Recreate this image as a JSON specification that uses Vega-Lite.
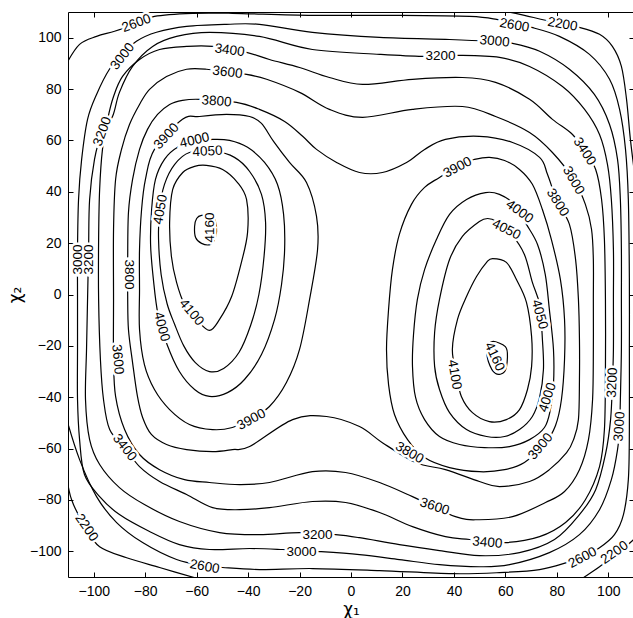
{
"$schema":"https://vega.github.io/schema/vega-lite/v6.json",
"width":566,"height":565,
"autosize":{"type":"none"},
"padding":{"left":68,"top":12,"right":0,"bottom":41},
"background":"white",
"config":{"view":{"stroke":"black","strokeWidth":1},"font":"Liberation Sans"},
"datasets":{
"loops":[
{"c":"L4160","i":0,"x":-58.1,"y":30.8},{"c":"L4160","i":1,"x":-60.0,"y":29.6},{"c":"L4160","i":2,"x":-60.8,"y":26.5},{"c":"L4160","i":3,"x":-60.4,"y":22.2},{"c":"L4160","i":4,"x":-58.1,"y":19.9},{"c":"L4160","i":5,"x":-54.6,"y":19.5},{"c":"L4160","i":6,"x":-52.7,"y":22.2},{"c":"L4160","i":7,"x":-52.3,"y":26.5},{"c":"L4160","i":8,"x":-53.8,"y":30.4},
{"c":"R4160","i":0,"x":55.0,"y":-18.3},{"c":"R4160","i":1,"x":60.0,"y":-20.3},{"c":"R4160","i":2,"x":60.8,"y":-24.5},{"c":"R4160","i":3,"x":59.7,"y":-30.0},{"c":"R4160","i":4,"x":56.2,"y":-30.8},{"c":"R4160","i":5,"x":53.4,"y":-26.1},{"c":"R4160","i":6,"x":53.0,"y":-21.0},
{"c":"L4100","i":0,"x":-65.4,"y":47.5},{"c":"L4100","i":1,"x":-69.3,"y":40.9},{"c":"L4100","i":2,"x":-70.5,"y":28.0},{"c":"L4100","i":3,"x":-69.8,"y":14.8},{"c":"L4100","i":4,"x":-67.8,"y":4.7},{"c":"L4100","i":5,"x":-64.7,"y":-3.9},{"c":"L4100","i":6,"x":-60.0,"y":-9.7},{"c":"L4100","i":7,"x":-55.0,"y":-14.0},{"c":"L4100","i":8,"x":-51.1,"y":-9.7},{"c":"L4100","i":9,"x":-46.4,"y":-0.8},{"c":"L4100","i":10,"x":-42.6,"y":12.5},{"c":"L4100","i":11,"x":-40.2,"y":24.2},{"c":"L4100","i":12,"x":-40.6,"y":37.0},{"c":"L4100","i":13,"x":-44.1,"y":43.6},{"c":"L4100","i":14,"x":-49.9,"y":48.7},{"c":"L4100","i":15,"x":-56.2,"y":50.3},{"c":"L4100","i":16,"x":-60.8,"y":49.9},
{"c":"R4100","i":0,"x":55.0,"y":14.0},{"c":"R4100","i":1,"x":60.4,"y":12.5},{"c":"R4100","i":2,"x":64.3,"y":5.8},{"c":"R4100","i":3,"x":68.2,"y":-3.1},{"c":"R4100","i":4,"x":70.2,"y":-16.4},{"c":"R4100","i":5,"x":70.2,"y":-28.0},{"c":"R4100","i":6,"x":68.6,"y":-37.0},{"c":"R4100","i":7,"x":65.5,"y":-44.8},{"c":"R4100","i":8,"x":60.4,"y":-48.7},{"c":"R4100","i":9,"x":53.8,"y":-49.5},{"c":"R4100","i":10,"x":47.2,"y":-46.0},{"c":"R4100","i":11,"x":42.9,"y":-39.7},{"c":"R4100","i":12,"x":41.0,"y":-31.2},{"c":"R4100","i":13,"x":39.4,"y":-21.4},{"c":"R4100","i":14,"x":41.4,"y":-9.7},{"c":"R4100","i":15,"x":44.9,"y":-0.8},{"c":"R4100","i":16,"x":48.8,"y":7.0},{"c":"R4100","i":17,"x":52.7,"y":12.5},
{"c":"L4050","i":0,"x":-62.8,"y":55.3},{"c":"L4050","i":1,"x":-68.6,"y":50.6},{"c":"L4050","i":2,"x":-72.5,"y":42.9},{"c":"L4050","i":3,"x":-74.4,"y":33.1},{"c":"L4050","i":4,"x":-74.8,"y":21.4},{"c":"L4050","i":5,"x":-73.8,"y":7.8},{"c":"L4050","i":6,"x":-71.5,"y":-3.5},{"c":"L4050","i":7,"x":-68.6,"y":-11.5},{"c":"L4050","i":8,"x":-65.0,"y":-20.0},{"c":"L4050","i":9,"x":-60.5,"y":-26.5},{"c":"L4050","i":10,"x":-55.0,"y":-30.0},{"c":"L4050","i":11,"x":-49.5,"y":-28.8},{"c":"L4050","i":12,"x":-43.5,"y":-22.5},{"c":"L4050","i":13,"x":-39.0,"y":-12.0},{"c":"L4050","i":14,"x":-35.8,"y":0.0},{"c":"L4050","i":15,"x":-33.8,"y":14.8},{"c":"L4050","i":16,"x":-33.2,"y":28.0},{"c":"L4050","i":17,"x":-34.8,"y":39.0},{"c":"L4050","i":18,"x":-39.4,"y":47.9},{"c":"L4050","i":19,"x":-45.3,"y":53.4},{"c":"L4050","i":20,"x":-53.0,"y":55.7},
{"c":"R4050","i":0,"x":49.9,"y":28.4},{"c":"R4050","i":1,"x":43.3,"y":22.6},{"c":"R4050","i":2,"x":38.3,"y":13.6},{"c":"R4050","i":3,"x":34.4,"y":-1.9},{"c":"R4050","i":4,"x":32.5,"y":-14.8},{"c":"R4050","i":5,"x":32.5,"y":-28.0},{"c":"R4050","i":6,"x":34.4,"y":-37.0},{"c":"R4050","i":7,"x":38.3,"y":-46.0},{"c":"R4050","i":8,"x":44.9,"y":-52.6},{"c":"R4050","i":9,"x":52.7,"y":-55.3},{"c":"R4050","i":10,"x":59.7,"y":-55.3},{"c":"R4050","i":11,"x":65.5,"y":-52.6},{"c":"R4050","i":12,"x":70.5,"y":-47.5},{"c":"R4050","i":13,"x":73.3,"y":-40.1},{"c":"R4050","i":14,"x":74.8,"y":-29.2},{"c":"R4050","i":15,"x":74.4,"y":-17.5},{"c":"R4050","i":16,"x":73.3,"y":-3.9},{"c":"R4050","i":17,"x":70.5,"y":4.7},{"c":"R4050","i":18,"x":67.4,"y":15.6},{"c":"R4050","i":19,"x":62.4,"y":23.4},{"c":"R4050","i":20,"x":56.6,"y":28.4},{"c":"R4050","i":21,"x":53.1,"y":29.6},
{"c":"L4000","i":0,"x":-67.4,"y":57.3},{"c":"L4000","i":1,"x":-72.5,"y":52.6},{"c":"L4000","i":2,"x":-76.0,"y":44.8},{"c":"L4000","i":3,"x":-77.5,"y":33.1},{"c":"L4000","i":4,"x":-77.9,"y":19.5},{"c":"L4000","i":5,"x":-76.8,"y":5.8},{"c":"L4000","i":6,"x":-75.0,"y":-7.8},{"c":"L4000","i":7,"x":-71.5,"y":-19.5},{"c":"L4000","i":8,"x":-66.7,"y":-30.0},{"c":"L4000","i":9,"x":-60.8,"y":-37.0},{"c":"L4000","i":10,"x":-55.0,"y":-39.7},{"c":"L4000","i":11,"x":-48.0,"y":-38.2},{"c":"L4000","i":12,"x":-41.4,"y":-33.1},{"c":"L4000","i":13,"x":-34.8,"y":-23.4},{"c":"L4000","i":14,"x":-29.7,"y":-9.7},{"c":"L4000","i":15,"x":-27.0,"y":3.9},{"c":"L4000","i":16,"x":-25.8,"y":17.5},{"c":"L4000","i":17,"x":-26.2,"y":31.2},{"c":"L4000","i":18,"x":-28.6,"y":42.9},{"c":"L4000","i":19,"x":-33.6,"y":51.4},{"c":"L4000","i":20,"x":-40.2,"y":57.3},{"c":"L4000","i":21,"x":-47.2,"y":60.0},{"c":"L4000","i":22,"x":-53.8,"y":60.4},{"c":"L4000","i":23,"x":-60.5,"y":59.5},
{"c":"R4000","i":0,"x":52.3,"y":39.7},{"c":"R4000","i":1,"x":44.9,"y":37.0},{"c":"R4000","i":2,"x":38.3,"y":31.2},{"c":"R4000","i":3,"x":33.2,"y":21.4},{"c":"R4000","i":4,"x":28.6,"y":9.7},{"c":"R4000","i":5,"x":25.8,"y":-1.9},{"c":"R4000","i":6,"x":24.3,"y":-15.6},{"c":"R4000","i":7,"x":23.9,"y":-28.0},{"c":"R4000","i":8,"x":25.1,"y":-40.1},{"c":"R4000","i":9,"x":28.6,"y":-48.7},{"c":"R4000","i":10,"x":34.4,"y":-55.3},{"c":"R4000","i":11,"x":42.2,"y":-58.4},{"c":"R4000","i":12,"x":51.9,"y":-59.6},{"c":"R4000","i":13,"x":61.6,"y":-59.2},{"c":"R4000","i":14,"x":69.4,"y":-56.5},{"c":"R4000","i":15,"x":75.2,"y":-51.8},{"c":"R4000","i":16,"x":77.5,"y":-44.8},{"c":"R4000","i":17,"x":78.7,"y":-35.1},{"c":"R4000","i":18,"x":78.7,"y":-21.4},{"c":"R4000","i":19,"x":77.1,"y":-5.8},{"c":"R4000","i":20,"x":75.5,"y":7.8},{"c":"R4000","i":21,"x":72.5,"y":19.5},{"c":"R4000","i":22,"x":68.2,"y":27.3},{"c":"R4000","i":23,"x":63.5,"y":35.1},{"c":"R4000","i":24,"x":57.7,"y":39.0},
{"c":"L3900","i":0,"x":-76.4,"y":56.5},{"c":"L3900","i":1,"x":-65.5,"y":68.2},{"c":"L3900","i":2,"x":-58.9,"y":69.3},{"c":"L3900","i":3,"x":-48.4,"y":70.1},{"c":"L3900","i":4,"x":-39.4,"y":69.3},{"c":"L3900","i":5,"x":-34.8,"y":66.6},{"c":"L3900","i":6,"x":-30.1,"y":59.6},{"c":"L3900","i":7,"x":-23.9,"y":51.4},{"c":"L3900","i":8,"x":-17.3,"y":43.6},{"c":"L3900","i":9,"x":-13.4,"y":30.4},{"c":"L3900","i":10,"x":-13.0,"y":17.5},{"c":"L3900","i":11,"x":-16.1,"y":-1.9},{"c":"L3900","i":12,"x":-20.0,"y":-21.4},{"c":"L3900","i":13,"x":-25.1,"y":-34.3},{"c":"L3900","i":14,"x":-31.7,"y":-43.6},{"c":"L3900","i":15,"x":-39.4,"y":-48.7},{"c":"L3900","i":16,"x":-46.1,"y":-51.8},{"c":"L3900","i":17,"x":-53.8,"y":-52.6},{"c":"L3900","i":18,"x":-62.8,"y":-50.6},{"c":"L3900","i":19,"x":-70.5,"y":-44.8},{"c":"L3900","i":20,"x":-76.4,"y":-37.0},{"c":"L3900","i":21,"x":-80.3,"y":-27.3},{"c":"L3900","i":22,"x":-82.2,"y":-13.6},{"c":"L3900","i":23,"x":-82.2,"y":1.9},{"c":"L3900","i":24,"x":-82.2,"y":17.5},{"c":"L3900","i":25,"x":-81.4,"y":33.1},{"c":"L3900","i":26,"x":-79.9,"y":44.8},
{"c":"R3900","i":0,"x":34.4,"y":45.6},{"c":"R3900","i":1,"x":28.6,"y":41.7},{"c":"R3900","i":2,"x":23.5,"y":35.1},{"c":"R3900","i":3,"x":18.8,"y":23.4},{"c":"R3900","i":4,"x":16.1,"y":9.7},{"c":"R3900","i":5,"x":14.6,"y":-5.8},{"c":"R3900","i":6,"x":13.8,"y":-21.4},{"c":"R3900","i":7,"x":14.6,"y":-35.1},{"c":"R3900","i":8,"x":16.9,"y":-46.7},{"c":"R3900","i":9,"x":22.0,"y":-56.5},{"c":"R3900","i":10,"x":28.6,"y":-63.5},{"c":"R3900","i":11,"x":38.3,"y":-67.4},{"c":"R3900","i":12,"x":49.9,"y":-69.0},{"c":"R3900","i":13,"x":59.7,"y":-68.2},{"c":"R3900","i":14,"x":67.4,"y":-65.4},{"c":"R3900","i":15,"x":75.2,"y":-58.4},{"c":"R3900","i":16,"x":79.5,"y":-51.0},{"c":"R3900","i":17,"x":81.8,"y":-40.9},{"c":"R3900","i":18,"x":83.0,"y":-25.3},{"c":"R3900","i":19,"x":83.0,"y":-9.7},{"c":"R3900","i":20,"x":81.4,"y":5.8},{"c":"R3900","i":21,"x":77.9,"y":21.4},{"c":"R3900","i":22,"x":74.4,"y":33.1},{"c":"R3900","i":23,"x":70.5,"y":42.9},{"c":"R3900","i":24,"x":65.5,"y":48.7},{"c":"R3900","i":25,"x":59.7,"y":52.2},{"c":"R3900","i":26,"x":53.8,"y":53.4},{"c":"R3900","i":27,"x":48.0,"y":52.6},{"c":"R3900","i":28,"x":42.2,"y":50.6},
{"c":"3800","i":0,"x":-44.5,"y":74.8},{"c":"3800","i":1,"x":-35.6,"y":72.1},{"c":"3800","i":2,"x":-25.8,"y":67.4},{"c":"3800","i":3,"x":-18.8,"y":61.6},{"c":"3800","i":4,"x":-13.4,"y":56.5},{"c":"3800","i":5,"x":-5.6,"y":51.4},{"c":"3800","i":6,"x":3.3,"y":47.5},{"c":"3800","i":7,"x":12.2,"y":47.5},{"c":"3800","i":8,"x":21.6,"y":51.4},{"c":"3800","i":9,"x":28.6,"y":56.5},{"c":"3800","i":10,"x":36.7,"y":60.4},{"c":"3800","i":11,"x":49.9,"y":61.6},{"c":"3800","i":12,"x":62.8,"y":59.2},{"c":"3800","i":13,"x":73.3,"y":53.4},{"c":"3800","i":14,"x":76.4,"y":46.7},{"c":"3800","i":15,"x":80.3,"y":35.8},{"c":"3800","i":16,"x":84.9,"y":27.3},{"c":"3800","i":17,"x":87.3,"y":13.6},{"c":"3800","i":18,"x":88.4,"y":-1.9},{"c":"3800","i":19,"x":88.8,"y":-17.5},{"c":"3800","i":20,"x":88.8,"y":-33.1},{"c":"3800","i":21,"x":88.4,"y":-48.7},{"c":"3800","i":22,"x":86.5,"y":-56.5},{"c":"3800","i":23,"x":83.8,"y":-61.6},{"c":"3800","i":24,"x":77.1,"y":-68.2},{"c":"3800","i":25,"x":69.4,"y":-72.8},{"c":"3800","i":26,"x":57.7,"y":-74.8},{"c":"3800","i":27,"x":49.9,"y":-72.8},{"c":"3800","i":28,"x":36.7,"y":-68.2},{"c":"3800","i":29,"x":25.1,"y":-65.4},{"c":"3800","i":30,"x":12.2,"y":-57.7},{"c":"3800","i":31,"x":3.3,"y":-51.4},{"c":"3800","i":32,"x":-9.5,"y":-47.5},{"c":"3800","i":33,"x":-22.7,"y":-48.7},{"c":"3800","i":34,"x":-39.4,"y":-59.2},{"c":"3800","i":35,"x":-46.1,"y":-60.4},{"c":"3800","i":36,"x":-53.8,"y":-61.2},{"c":"3800","i":37,"x":-63.9,"y":-60.4},{"c":"3800","i":38,"x":-71.7,"y":-58.4},{"c":"3800","i":39,"x":-77.6,"y":-54.5},{"c":"3800","i":40,"x":-81.0,"y":-47.9},{"c":"3800","i":41,"x":-83.0,"y":-39.7},{"c":"3800","i":42,"x":-84.9,"y":-26.5},{"c":"3800","i":43,"x":-86.5,"y":-13.6},{"c":"3800","i":44,"x":-86.8,"y":-0.8},{"c":"3800","i":45,"x":-86.8,"y":13.6},{"c":"3800","i":46,"x":-86.5,"y":31.9},{"c":"3800","i":47,"x":-84.9,"y":44.8},{"c":"3800","i":48,"x":-82.2,"y":56.5},{"c":"3800","i":49,"x":-79.1,"y":64.3},{"c":"3800","i":50,"x":-75.2,"y":70.1},{"c":"3800","i":51,"x":-70.5,"y":74.0},{"c":"3800","i":52,"x":-65.5,"y":75.6},{"c":"3800","i":53,"x":-58.9,"y":76.0},
{"c":"3600","i":0,"x":-56.2,"y":87.7},{"c":"3600","i":1,"x":-40.6,"y":85.7},{"c":"3600","i":2,"x":-32.8,"y":83.8},{"c":"3600","i":3,"x":-20.0,"y":78.7},{"c":"3600","i":4,"x":-8.4,"y":72.1},{"c":"3600","i":5,"x":4.5,"y":69.0},{"c":"3600","i":6,"x":23.9,"y":72.1},{"c":"3600","i":7,"x":43.3,"y":73.2},{"c":"3600","i":8,"x":56.2,"y":69.3},{"c":"3600","i":9,"x":69.4,"y":63.1},{"c":"3600","i":10,"x":78.3,"y":55.3},{"c":"3600","i":11,"x":86.5,"y":44.8},{"c":"3600","i":12,"x":91.1,"y":35.1},{"c":"3600","i":13,"x":93.5,"y":25.3},{"c":"3600","i":14,"x":94.2,"y":13.6},{"c":"3600","i":15,"x":94.2,"y":-1.9},{"c":"3600","i":16,"x":94.2,"y":-21.4},{"c":"3600","i":17,"x":93.9,"y":-40.9},{"c":"3600","i":18,"x":92.3,"y":-56.5},{"c":"3600","i":19,"x":88.8,"y":-68.2},{"c":"3600","i":20,"x":83.0,"y":-76.7},{"c":"3600","i":21,"x":75.6,"y":-81.0},{"c":"3600","i":22,"x":62.8,"y":-86.5},{"c":"3600","i":23,"x":49.9,"y":-87.7},{"c":"3600","i":24,"x":40.6,"y":-86.5},{"c":"3600","i":25,"x":23.9,"y":-78.7},{"c":"3600","i":26,"x":11.1,"y":-73.2},{"c":"3600","i":27,"x":-2.1,"y":-69.3},{"c":"3600","i":28,"x":-15.0,"y":-69.0},{"c":"3600","i":29,"x":-31.7,"y":-73.2},{"c":"3600","i":30,"x":-43.3,"y":-74.0},{"c":"3600","i":31,"x":-55.0,"y":-73.2},{"c":"3600","i":32,"x":-64.7,"y":-72.1},{"c":"3600","i":33,"x":-74.4,"y":-68.2},{"c":"3600","i":34,"x":-82.2,"y":-62.3},{"c":"3600","i":35,"x":-88.0,"y":-52.6},{"c":"3600","i":36,"x":-91.5,"y":-39.7},{"c":"3600","i":37,"x":-92.3,"y":-25.3},{"c":"3600","i":38,"x":-92.3,"y":-1.9},{"c":"3600","i":39,"x":-92.3,"y":25.3},{"c":"3600","i":40,"x":-91.5,"y":44.8},{"c":"3600","i":41,"x":-89.2,"y":56.5},{"c":"3600","i":42,"x":-86.1,"y":66.2},{"c":"3600","i":43,"x":-82.2,"y":74.0},{"c":"3600","i":44,"x":-78.3,"y":79.9},{"c":"3600","i":45,"x":-71.7,"y":84.9},{"c":"3600","i":46,"x":-63.9,"y":87.7},
{"c":"3400","i":0,"x":-40.6,"y":94.3},{"c":"3400","i":1,"x":-31.7,"y":91.5},{"c":"3400","i":2,"x":-20.0,"y":88.4},{"c":"3400","i":3,"x":-8.4,"y":84.5},{"c":"3400","i":4,"x":4.5,"y":81.8},{"c":"3400","i":5,"x":23.9,"y":83.8},{"c":"3400","i":6,"x":43.3,"y":84.5},{"c":"3400","i":7,"x":56.2,"y":82.6},{"c":"3400","i":8,"x":69.4,"y":76.0},{"c":"3400","i":9,"x":78.3,"y":68.2},{"c":"3400","i":10,"x":86.1,"y":62.3},{"c":"3400","i":11,"x":90.8,"y":55.7},{"c":"3400","i":12,"x":95.1,"y":48.7},{"c":"3400","i":13,"x":97.4,"y":37.0},{"c":"3400","i":14,"x":98.5,"y":21.4},{"c":"3400","i":15,"x":98.9,"y":-1.9},{"c":"3400","i":16,"x":98.9,"y":-29.2},{"c":"3400","i":17,"x":98.5,"y":-52.6},{"c":"3400","i":18,"x":96.6,"y":-67.0},{"c":"3400","i":19,"x":91.1,"y":-79.9},{"c":"3400","i":20,"x":83.4,"y":-88.8},{"c":"3400","i":21,"x":73.3,"y":-94.3},{"c":"3400","i":22,"x":60.0,"y":-96.6},{"c":"3400","i":23,"x":46.1,"y":-95.4},{"c":"3400","i":24,"x":36.7,"y":-94.3},{"c":"3400","i":25,"x":23.9,"y":-90.4},{"c":"3400","i":26,"x":11.1,"y":-84.9},{"c":"3400","i":27,"x":-2.1,"y":-81.0},{"c":"3400","i":28,"x":-15.0,"y":-80.6},{"c":"3400","i":29,"x":-31.7,"y":-83.0},{"c":"3400","i":30,"x":-43.3,"y":-83.8},{"c":"3400","i":31,"x":-53.8,"y":-83.0},{"c":"3400","i":32,"x":-63.9,"y":-77.9},{"c":"3400","i":33,"x":-74.4,"y":-72.8},{"c":"3400","i":34,"x":-82.2,"y":-67.0},{"c":"3400","i":35,"x":-88.0,"y":-59.6},{"c":"3400","i":36,"x":-93.8,"y":-52.6},{"c":"3400","i":37,"x":-96.2,"y":-40.9},{"c":"3400","i":38,"x":-97.4,"y":-25.3},{"c":"3400","i":39,"x":-98.1,"y":-1.9},{"c":"3400","i":40,"x":-98.1,"y":21.4},{"c":"3400","i":41,"x":-97.7,"y":40.9},{"c":"3400","i":42,"x":-96.6,"y":56.5},{"c":"3400","i":43,"x":-94.6,"y":68.2},{"c":"3400","i":44,"x":-92.3,"y":77.1},{"c":"3400","i":45,"x":-88.8,"y":84.9},{"c":"3400","i":46,"x":-82.2,"y":91.5},{"c":"3400","i":47,"x":-74.4,"y":95.4},{"c":"3400","i":48,"x":-63.9,"y":96.6},{"c":"3400","i":49,"x":-53.8,"y":96.6},
{"c":"3200","i":0,"x":-92.7,"y":69.3},{"c":"3200","i":1,"x":-90.0,"y":78.7},{"c":"3200","i":2,"x":-84.9,"y":88.8},{"c":"3200","i":3,"x":-77.1,"y":96.6},{"c":"3200","i":4,"x":-67.8,"y":100.5},{"c":"3200","i":5,"x":-55.0,"y":102.1},{"c":"3200","i":6,"x":-35.6,"y":100.5},{"c":"3200","i":7,"x":-15.0,"y":95.4},{"c":"3200","i":8,"x":11.1,"y":93.5},{"c":"3200","i":9,"x":27.8,"y":92.7},{"c":"3200","i":10,"x":42.2,"y":93.1},{"c":"3200","i":11,"x":57.7,"y":92.3},{"c":"3200","i":12,"x":69.4,"y":88.8},{"c":"3200","i":13,"x":82.2,"y":81.0},{"c":"3200","i":14,"x":90.8,"y":72.1},{"c":"3200","i":15,"x":96.6,"y":62.3},{"c":"3200","i":16,"x":99.7,"y":50.6},{"c":"3200","i":17,"x":101.2,"y":37.0},{"c":"3200","i":18,"x":102.0,"y":17.5},{"c":"3200","i":19,"x":102.0,"y":-1.9},{"c":"3200","i":20,"x":102.0,"y":-21.4},{"c":"3200","i":21,"x":101.6,"y":-34.3},{"c":"3200","i":22,"x":100.9,"y":-48.7},{"c":"3200","i":23,"x":98.9,"y":-62.3},{"c":"3200","i":24,"x":95.1,"y":-76.0},{"c":"3200","i":25,"x":88.8,"y":-85.7},{"c":"3200","i":26,"x":79.1,"y":-95.4},{"c":"3200","i":27,"x":65.5,"y":-100.5},{"c":"3200","i":28,"x":49.9,"y":-101.7},{"c":"3200","i":29,"x":34.4,"y":-99.7},{"c":"3200","i":30,"x":18.8,"y":-97.4},{"c":"3200","i":31,"x":3.3,"y":-94.7},{"c":"3200","i":32,"x":-6.0,"y":-93.5},{"c":"3200","i":33,"x":-20.0,"y":-92.7},{"c":"3200","i":34,"x":-35.6,"y":-93.5},{"c":"3200","i":35,"x":-51.1,"y":-92.7},{"c":"3200","i":36,"x":-66.7,"y":-88.4},{"c":"3200","i":37,"x":-80.3,"y":-81.8},{"c":"3200","i":38,"x":-90.0,"y":-75.2},{"c":"3200","i":39,"x":-97.7,"y":-66.2},{"c":"3200","i":40,"x":-101.6,"y":-56.5},{"c":"3200","i":41,"x":-103.2,"y":-40.9},{"c":"3200","i":42,"x":-102.8,"y":-21.4},{"c":"3200","i":43,"x":-102.4,"y":-1.9},{"c":"3200","i":44,"x":-102.0,"y":17.5},{"c":"3200","i":45,"x":-101.6,"y":37.0},{"c":"3200","i":46,"x":-99.7,"y":52.6},{"c":"3200","i":47,"x":-97.0,"y":62.3},
{"c":"3000","i":0,"x":-93.9,"y":87.7},{"c":"3000","i":1,"x":-88.8,"y":93.5},{"c":"3000","i":2,"x":-83.4,"y":98.6},{"c":"3000","i":3,"x":-75.6,"y":102.1},{"c":"3000","i":4,"x":-63.9,"y":104.4},{"c":"3000","i":5,"x":-48.4,"y":105.2},{"c":"3000","i":6,"x":-35.6,"y":105.2},{"c":"3000","i":7,"x":-15.0,"y":102.1},{"c":"3000","i":8,"x":11.1,"y":100.1},{"c":"3000","i":9,"x":38.3,"y":99.3},{"c":"3000","i":10,"x":53.8,"y":98.6},{"c":"3000","i":11,"x":62.8,"y":97.8},{"c":"3000","i":12,"x":73.3,"y":94.7},{"c":"3000","i":13,"x":84.9,"y":87.7},{"c":"3000","i":14,"x":94.6,"y":77.9},{"c":"3000","i":15,"x":100.5,"y":66.2},{"c":"3000","i":16,"x":103.6,"y":52.6},{"c":"3000","i":17,"x":104.7,"y":37.0},{"c":"3000","i":18,"x":105.1,"y":17.5},{"c":"3000","i":19,"x":105.1,"y":-1.9},{"c":"3000","i":20,"x":105.1,"y":-21.4},{"c":"3000","i":21,"x":104.7,"y":-40.9},{"c":"3000","i":22,"x":104.4,"y":-51.4},{"c":"3000","i":23,"x":103.6,"y":-60.4},{"c":"3000","i":24,"x":101.2,"y":-72.1},{"c":"3000","i":25,"x":96.6,"y":-83.8},{"c":"3000","i":26,"x":88.8,"y":-93.5},{"c":"3000","i":27,"x":77.1,"y":-100.5},{"c":"3000","i":28,"x":61.6,"y":-105.2},{"c":"3000","i":29,"x":49.9,"y":-106.0},{"c":"3000","i":30,"x":34.4,"y":-105.2},{"c":"3000","i":31,"x":18.8,"y":-103.2},{"c":"3000","i":32,"x":3.3,"y":-101.3},{"c":"3000","i":33,"x":-12.2,"y":-100.1},{"c":"3000","i":34,"x":-26.6,"y":-99.3},{"c":"3000","i":35,"x":-39.4,"y":-98.9},{"c":"3000","i":36,"x":-55.0,"y":-99.3},{"c":"3000","i":37,"x":-66.7,"y":-97.4},{"c":"3000","i":38,"x":-78.3,"y":-92.3},{"c":"3000","i":39,"x":-90.0,"y":-85.7},{"c":"3000","i":40,"x":-97.7,"y":-78.7},{"c":"3000","i":41,"x":-103.6,"y":-70.1},{"c":"3000","i":42,"x":-105.5,"y":-56.5},{"c":"3000","i":43,"x":-106.3,"y":-40.9},{"c":"3000","i":44,"x":-106.3,"y":-21.4},{"c":"3000","i":45,"x":-106.3,"y":-1.9},{"c":"3000","i":46,"x":-106.3,"y":17.5},{"c":"3000","i":47,"x":-105.9,"y":37.0},{"c":"3000","i":48,"x":-104.7,"y":52.6},{"c":"3000","i":49,"x":-102.4,"y":68.2},{"c":"3000","i":50,"x":-98.9,"y":77.9}
],
"open":[
{"c":"2600","i":0,"x":-110.5,"y":-48.7},{"c":"2600","i":1,"x":-105.5,"y":-64.3},{"c":"2600","i":2,"x":-98.9,"y":-78.7},{"c":"2600","i":3,"x":-91.1,"y":-88.8},{"c":"2600","i":4,"x":-81.0,"y":-96.6},{"c":"2600","i":5,"x":-67.8,"y":-103.2},{"c":"2600","i":6,"x":-56.9,"y":-105.6},{"c":"2600","i":7,"x":-49.9,"y":-106.3},{"c":"2600","i":8,"x":-35.6,"y":-107.1},{"c":"2600","i":9,"x":-15.0,"y":-106.7},{"c":"2600","i":10,"x":11.1,"y":-107.5},{"c":"2600","i":11,"x":39.4,"y":-108.7},{"c":"2600","i":12,"x":57.7,"y":-108.3},{"c":"2600","i":13,"x":73.3,"y":-107.1},{"c":"2600","i":14,"x":83.8,"y":-104.4},{"c":"2600","i":15,"x":90.0,"y":-102.1},{"c":"2600","i":16,"x":96.6,"y":-98.6},{"c":"2600","i":17,"x":102.4,"y":-93.5},{"c":"2600","i":18,"x":105.9,"y":-85.7},{"c":"2600","i":19,"x":107.8,"y":-72.1},{"c":"2600","i":20,"x":108.2,"y":-52.6},{"c":"2600","i":21,"x":108.2,"y":-21.4},{"c":"2600","i":22,"x":108.2,"y":5.8},{"c":"2600","i":23,"x":107.8,"y":37.0},{"c":"2600","i":24,"x":106.7,"y":56.5},{"c":"2600","i":25,"x":104.4,"y":72.1},{"c":"2600","i":26,"x":100.5,"y":83.8},{"c":"2600","i":27,"x":92.7,"y":93.5},{"c":"2600","i":28,"x":81.0,"y":100.5},{"c":"2600","i":29,"x":70.2,"y":104.0},{"c":"2600","i":30,"x":63.5,"y":105.2},{"c":"2600","i":31,"x":56.6,"y":107.1},{"c":"2600","i":32,"x":46.1,"y":108.3},{"c":"2600","i":33,"x":18.8,"y":108.7},{"c":"2600","i":34,"x":-15.0,"y":108.7},{"c":"2600","i":35,"x":-46.1,"y":109.5},{"c":"2600","i":36,"x":-61.6,"y":109.5},{"c":"2600","i":37,"x":-76.4,"y":108.3},{"c":"2600","i":38,"x":-84.1,"y":105.2},{"c":"2600","i":39,"x":-91.9,"y":102.5},{"c":"2600","i":40,"x":-98.9,"y":100.5},{"c":"2600","i":41,"x":-105.5,"y":97.4},{"c":"2600","i":42,"x":-110.5,"y":90.0},
{"c":"2200a","i":0,"x":-110.5,"y":-70.5},{"c":"2200a","i":1,"x":-108.6,"y":-79.9},{"c":"2200a","i":2,"x":-103.2,"y":-90.8},{"c":"2200a","i":3,"x":-97.7,"y":-98.2},{"c":"2200a","i":4,"x":-87.2,"y":-102.5},{"c":"2200a","i":5,"x":-74.4,"y":-106.3},{"c":"2200a","i":6,"x":-60.0,"y":-110.5},
{"c":"2200b","i":0,"x":59.0,"y":110.5},{"c":"2200b","i":1,"x":67.4,"y":108.7},{"c":"2200b","i":2,"x":76.0,"y":106.7},{"c":"2200b","i":3,"x":88.8,"y":104.0},{"c":"2200b","i":4,"x":96.6,"y":101.3},{"c":"2200b","i":5,"x":101.6,"y":96.6},{"c":"2200b","i":6,"x":105.1,"y":88.8},{"c":"2200b","i":7,"x":107.1,"y":76.0},{"c":"2200b","i":8,"x":108.6,"y":60.4},{"c":"2200b","i":9,"x":110.5,"y":45.0},
{"c":"2200c","i":0,"x":90.0,"y":-110.5},{"c":"2200c","i":1,"x":96.6,"y":-106.0},{"c":"2200c","i":2,"x":103.2,"y":-101.3},{"c":"2200c","i":3,"x":110.5,"y":-94.8}
],
"labels":[
{"t":"2600","x":-83.4,"y":105.6,"a":-20},{"t":"3000","x":-88.8,"y":92.7,"a":-52},{"t":"3200","x":-96.6,"y":63.5,"a":-70},
{"t":"3400","x":-47.2,"y":95.1,"a":8},{"t":"3600","x":-48.0,"y":86.5,"a":7},{"t":"3800","x":-52.3,"y":75.2,"a":4},
{"t":"3900","x":-71.7,"y":61.6,"a":-47},{"t":"4000","x":-60.8,"y":60.0,"a":-13},{"t":"4050","x":-55.8,"y":55.7,"a":-3},
{"t":"4050","x":-74.0,"y":33.1,"a":-80},{"t":"4160","x":-55.0,"y":26.1,"a":-90},{"t":"3000","x":-106.3,"y":13.6,"a":-90},{"t":"3200","x":-102.0,"y":13.6,"a":-90},
{"t":"3800","x":-86.1,"y":7.8,"a":90},{"t":"4100","x":-62.0,"y":-7.0,"a":50},{"t":"4000","x":-73.6,"y":-12.5,"a":75},{"t":"3600","x":-90.7,"y":-25.3,"a":85},
{"t":"3900","x":-38.7,"y":-48.7,"a":-28},{"t":"3400","x":-88.0,"y":-59.6,"a":52},{"t":"2200","x":-102.8,"y":-90.8,"a":55},{"t":"2600","x":-56.9,"y":-106.0,"a":10},
{"t":"3200","x":-13.0,"y":-93.5,"a":0},{"t":"3000","x":-19.2,"y":-100.1,"a":0},{"t":"3800","x":22.7,"y":-61.6,"a":30},{"t":"3600","x":32.5,"y":-82.6,"a":18},{"t":"3400","x":53.0,"y":-96.6,"a":5},
{"t":"2600","x":90.0,"y":-102.5,"a":-28},{"t":"2200","x":102.4,"y":-100.5,"a":-35},{"t":"3900","x":73.7,"y":-59.2,"a":-50},{"t":"4000","x":76.4,"y":-40.1,"a":-72},
{"t":"4050","x":73.3,"y":-7.8,"a":75},{"t":"4100","x":40.2,"y":-31.2,"a":80},{"t":"4160","x":55.8,"y":-24.2,"a":65},
{"t":"3900","x":41.4,"y":49.5,"a":-28},{"t":"4000","x":65.5,"y":32.3,"a":36},{"t":"4050","x":60.4,"y":25.3,"a":27},
{"t":"3800","x":80.3,"y":35.8,"a":58},{"t":"3600","x":86.5,"y":44.4,"a":60},{"t":"3400","x":90.8,"y":55.7,"a":57},
{"t":"3200","x":34.8,"y":92.7,"a":0},{"t":"3000","x":55.8,"y":98.6,"a":5},{"t":"2600","x":63.5,"y":104.8,"a":10},{"t":"2200","x":82.2,"y":105.2,"a":10},
{"t":"3200","x":101.6,"y":-34.3,"a":-88},{"t":"3000","x":104.4,"y":-51.4,"a":-86}
]
},
"layer":[
{"data":{"name":"loops"},
 "mark":{"type":"line","interpolate":"cardinal-closed","color":"black","strokeWidth":1.2},
 "encoding":{
  "x":{"field":"x","type":"quantitative","scale":{"domain":[-110,110],"nice":false,"zero":false},
   "axis":{"orient":"bottom","values":[-100,-80,-60,-40,-20,0,20,40,60,80,100],"tickSize":-5,"labelPadding":12,"domain":false,"grid":false,"title":"χ₁","labelFontSize":14,"titleFontSize":17,"titleFontWeight":"normal","titlePadding":3,"labelFont":"Liberation Sans","titleFont":"DejaVu Sans","tickColor":"black","labelColor":"black","titleColor":"black"}},
  "y":{"field":"y","type":"quantitative","scale":{"domain":[-110,110],"nice":false,"zero":false},
   "axis":{"orient":"left","values":[-100,-80,-60,-40,-20,0,20,40,60,80,100],"tickSize":-5,"labelPadding":12,"domain":false,"grid":false,"title":"χ₂","labelFontSize":14,"titleFontSize":17,"titleFontWeight":"normal","titlePadding":5,"labelFont":"Liberation Sans","titleFont":"DejaVu Sans","tickColor":"black","labelColor":"black","titleColor":"black"}},
  "detail":{"field":"c","type":"nominal"},
  "order":{"field":"i","type":"quantitative"}}},
{"data":{"name":"open"},
 "mark":{"type":"line","interpolate":"cardinal","color":"black","strokeWidth":1.2,"clip":true},
 "encoding":{
  "x":{"field":"x","type":"quantitative","scale":{"domain":[-110,110],"nice":false,"zero":false},"axis":null},
  "y":{"field":"y","type":"quantitative","scale":{"domain":[-110,110],"nice":false,"zero":false},"axis":null},
  "detail":{"field":"c","type":"nominal"},
  "order":{"field":"i","type":"quantitative"}}},
{"data":{"name":"labels"},
 "mark":{"type":"text","font":"Liberation Sans","fontSize":13.5,"fill":"white","stroke":"white","strokeWidth":5,"align":"center","baseline":"middle"},
 "encoding":{
  "x":{"field":"x","type":"quantitative","axis":null},
  "y":{"field":"y","type":"quantitative","axis":null},
  "text":{"field":"t","type":"nominal"},
  "angle":{"field":"a","type":"quantitative","scale":null}}},
{"data":{"name":"labels"},
 "mark":{"type":"text","font":"Liberation Sans","fontSize":13.5,"color":"black","align":"center","baseline":"middle"},
 "encoding":{
  "x":{"field":"x","type":"quantitative","axis":{"orient":"top","values":[-100,-80,-60,-40,-20,0,20,40,60,80,100],"tickSize":-5,"labels":false,"domain":false,"grid":false,"title":null,"tickColor":"black"}},
  "y":{"field":"y","type":"quantitative","axis":{"orient":"right","values":[-100,-80,-60,-40,-20,0,20,40,60,80,100],"tickSize":-5,"labels":false,"domain":false,"grid":false,"title":null,"tickColor":"black"}},
  "text":{"field":"t","type":"nominal"},
  "angle":{"field":"a","type":"quantitative","scale":null}}}
],
"resolve":{"axis":{"x":"independent","y":"independent"}}
}
